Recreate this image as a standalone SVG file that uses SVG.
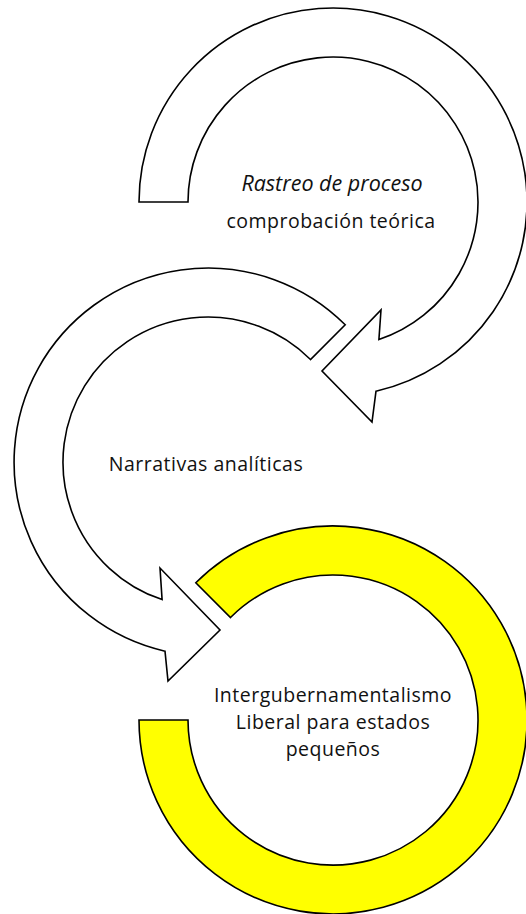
<svg xmlns="http://www.w3.org/2000/svg" width="526" height="914" viewBox="0 0 526 914">
<style>
.shape{stroke:#000;stroke-width:1.6;stroke-linejoin:miter}
.white{fill:#fff}
.yellow{fill:#ffff00}
.lbl{font-family:"Open Sans","Noto Sans","Liberation Sans",sans-serif;font-size:19.5px;letter-spacing:0.5px;fill:#111;text-anchor:middle}
.it{font-style:italic;font-size:21.5px;letter-spacing:0}
</style>
<rect width="526" height="914" fill="#fff"/>
<g id="node-rastreo">
<path class="shape white" d="M139,202 A194,194 0 1 1 376,391.2 L372,422 L322,371 L381,310 L378.9,339.6 A145,145 0 1 0 188,202 Z"/>
<text class="lbl it" x="332" y="191">Rastreo de proceso</text>
<text class="lbl" x="331" y="228">comprobación teórica</text>
</g>
<g id="node-narrativas">
<path class="shape white" d="M345.2,324.8 A194,194 0 1 0 165,651.2 L168,681 L220,630 L160,568 L162.1,599.6 A145,145 0 1 1 310.5,359.5 Z"/>
<text class="lbl" x="206" y="471">Narrativas analíticas</text>
</g>
<g id="node-intergub">
<path class="shape yellow" d="M195.8,582.8 A194,194 0 1 1 139,720 L188,720 A145,145 0 1 0 230.5,617.5 Z"/>
<text class="lbl" x="333" y="702">Intergubernamentalismo</text>
<text class="lbl" x="333" y="728.8">Liberal para estados</text>
<text class="lbl" x="333" y="755.6">pequeños</text>
</g>
<g id="connectors"></g>
</svg>
